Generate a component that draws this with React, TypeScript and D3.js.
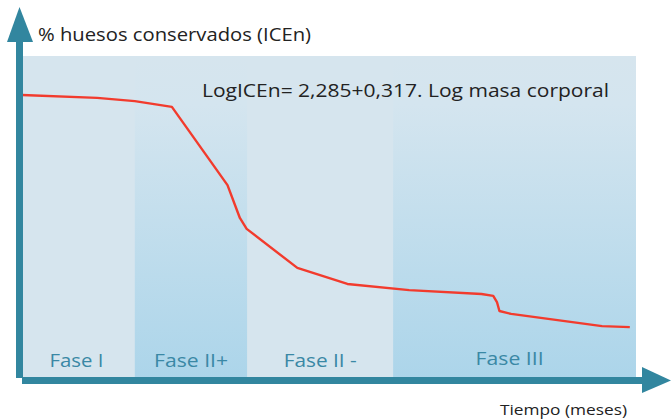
import React from "react";
import * as d3 from "d3";

const phaseNames = ["Fase I", "Fase II+", "Fase II -", "Fase III"];
const phaseStarts = [0, 18.9, 37.1, 60.7];
const phaseEnds = [18.9, 37.1, 60.7, 100];
const phaseShaded = [false, true, false, true];

const timeValues = [0.65, 12.8, 18.9, 24.9, 33.9, 35.9, 37.0, 45.2, 53.3, 63.3, 75.0, 76.9, 77.5, 77.9, 79.8, 94.5, 99.0];
const iceValues = [87.9, 87.0, 86.0, 84.2, 59.9, 49.7, 46.3, 34.2, 29.2, 27.3, 26.1, 25.5, 23.6, 20.8, 19.9, 16.1, 15.8];

const yLabel = "% huesos conservados (ICEn)";
const xLabel = "Tiempo (meses)";
const equation = "LogICEn= 2,285+0,317. Log masa corporal";

export default function App() {
  const W = 671, H = 419;
  const x = d3.scaleLinear().domain([0, 100]).range([18, 636]);
  const y = d3.scaleLinear().domain([0, 100]).range([378, 56]);
  const line = d3.line<number>().x((_, i) => x(timeValues[i])).y((d) => y(d));
  const axisColor = "#32869f";
  const font = "'Open Sans', Lato, sans-serif";
  const phaseW = [54, 74, 73, 68];
  const phaseDx = [0, 0, 0, -5];
  const phaseY = [367, 367, 367, 365];
  return (
    <svg width={W} height={H} style={{ position: "absolute", left: 0, top: 0 }}>
      <defs>
        <linearGradient id="band" x1="0" y1="0" x2="0" y2="1">
          <stop offset="0" stopColor="#d6e5ee" />
          <stop offset="0.15" stopColor="#d4e5ef" />
          <stop offset="1" stopColor="#acd5ea" />
        </linearGradient>
      </defs>
      <rect x={x(0)} y={y(100)} width={x(100) - x(0)} height={y(0) - y(100)} fill="#d6e5ee" />
      {phaseNames.map((n, i) => (
        <rect key={"b" + i} x={x(phaseStarts[i])} y={y(100)} width={x(phaseEnds[i]) - x(phaseStarts[i])}
          height={y(0) - y(100)} fill={phaseShaded[i] ? "url(#band)" : "#d6e5ee"} />
      ))}
      {phaseNames.map((n, i) => (
        <text key={"t" + i} x={(x(phaseStarts[i]) + x(phaseEnds[i])) / 2 + phaseDx[i]} y={phaseY[i]}
          textAnchor="middle" fontFamily={font} fontSize={19} fill="#3a88a5"
          textLength={phaseW[i]} lengthAdjust="spacingAndGlyphs">{n}</text>
      ))}
      <path d={line(iceValues) || ""} fill="none" stroke="#f23b2d" strokeWidth={2.4} strokeLinejoin="round" />
      <text x={202} y={97} fontFamily={font} fontSize={19} fill="#222"
        textLength={407} lengthAdjust="spacingAndGlyphs">{equation}</text>
      {/* y axis */}
      <rect x={16} y={40} width={7} height={338} fill={axisColor} />
      <path d="M7,42 L19.5,7 L33,42 Z" fill={axisColor} />
      {/* x axis */}
      <rect x={22} y={377} width={622} height={7} fill={axisColor} />
      <path d="M642,367 L671,380.5 L642,393 Z" fill={axisColor} />
      <text x={38} y={41} fontFamily={font} fontSize={17.5} fill="#222"
        textLength={273} lengthAdjust="spacingAndGlyphs">{yLabel}</text>
      <text x={500} y={415} fontFamily={font} fontSize={14.5} fill="#222"
        textLength={127} lengthAdjust="spacingAndGlyphs">{xLabel}</text>
    </svg>
  );
}
